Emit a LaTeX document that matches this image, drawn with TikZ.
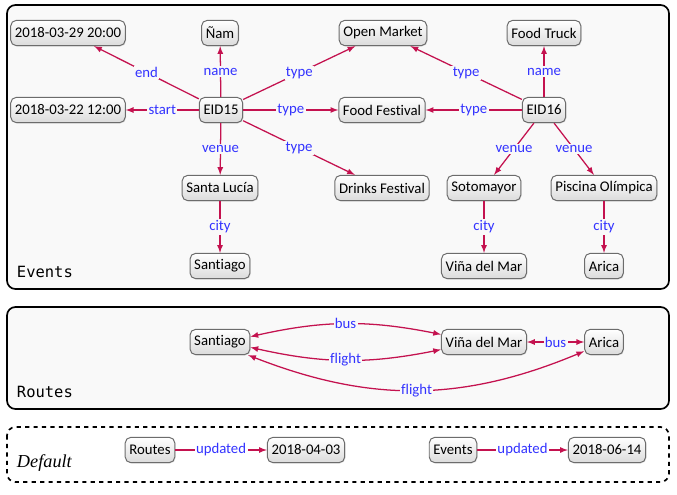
\documentclass[tikz,border=0pt]{standalone}
\usepackage{fontspec}
\setmainfont[Ligatures=NoCommon]{Carlito}
\setmonofont{DejaVu Sans Mono}
\newfontfamily\defaultfont{Liberation Serif}
\usetikzlibrary{arrows,calc,shadows}
\definecolor{edgecol}{RGB}{196,18,79}
\definecolor{lblcol}{RGB}{51,51,255}
\definecolor{boxbg}{RGB}{249,249,249}
\tikzset{
  every node/.style={font=\fontsize{10.5}{12}\selectfont},
  res/.style={draw=gray!85!black,rounded corners=4pt,top color=white,bottom color=gray!28,
    inner sep=3pt,minimum height=18pt,line width=0.7pt,
    drop shadow={opacity=0.2,shadow xshift=0.6pt,shadow yshift=-0.6pt}},
  rel/.style={draw=edgecol,line width=0.9pt,-latex},
  birel/.style={draw=edgecol,line width=0.9pt,latex-latex},
  lbl/.style={text=lblcol,fill=boxbg,inner sep=1pt},
  graphbox/.style={draw,line width=1.2pt,rounded corners=6pt,fill=boxbg},
  boxname/.style={anchor=west,font=\ttfamily\fontsize{11}{13}\selectfont}
}

\begin{document}
\begin{tikzpicture}[x=0.025cm,y=-0.025cm]
\useasboundingbox (0,0) rectangle (677,494);

% named graph boxes
\draw[graphbox] (7,5) rectangle (669,289);
\draw[graphbox] (7,307) rectangle (669,409);
\draw[graphbox,dashed,fill=white] (7,427) rectangle (669,482);
\node[boxname] (nEvents) at (12,272) {Events};
\node[boxname] (nRoutes) at (12,392) {Routes};
\node[anchor=west,font=\defaultfont\itshape\fontsize{13}{15}\selectfont] (nDefault) at (12,463) {Default};

% Events
\node[res] (end15) at (68,33) {2018-03-29 20:00};
\node[res] (nam) at (220,33) {Ñam};
\node[res] (market) at (383,33) {Open Market};
\node[res] (truck) at (544,33) {Food Truck};
\node[res] (start15) at (68,110) {2018-03-22 12:00};
\node[res] (eid15) at (221,110) {EID15};
\node[res] (festival) at (382,110) {Food Festival};
\node[res] (eid16) at (544,110) {EID16};
\node[res] (lucia) at (220,188) {Santa Lucía};
\node[res] (drinks) at (382,188) {Drinks Festival};
\node[res] (soto) at (484,188) {Sotomayor};
\node[res] (piscina) at (604,188) {Piscina Olímpica};
\node[res] (santiago) at (220,266) {Santiago};
\node[res] (vina) at (484,266) {Viña del Mar};
\node[res] (arica) at (604,266) {Arica};

\draw[rel] (eid15) -- node[lbl] {end} (end15);
\draw[rel] (eid15) -- node[lbl] {name} (nam);
\draw[rel] (eid15) -- node[lbl] {type} (market);
\draw[rel] (eid15) -- node[lbl] {start} (start15);
\draw[rel] (eid15) -- node[lbl] {type} (festival);
\draw[rel] (eid15) -- node[lbl] {venue} (lucia);
\draw[rel] (eid15) -- node[lbl] {type} (drinks);
\draw[rel] (eid16) -- node[lbl] {type} (market);
\draw[rel] (eid16) -- node[lbl] {name} (truck);
\draw[rel] (eid16) -- node[lbl] {type} (festival);
\draw[rel] (eid16) -- node[lbl] {venue} (soto);
\draw[rel] (eid16) -- node[lbl] {venue} (piscina);
\draw[rel] (lucia) -- node[lbl] {city} (santiago);
\draw[rel] (soto) -- node[lbl] {city} (vina);
\draw[rel] (piscina) -- node[lbl] {city} (arica);

% Routes
\node[res] (rsantiago) at (220,342) {Santiago};
\node[res] (rvina) at (484,342) {Viña del Mar};
\node[res] (rarica) at (604,342) {Arica};

\draw[birel] (rsantiago.10) to[bend left=12] node[lbl] {bus} (rvina.170);
\draw[birel] (rsantiago.-10) to[bend right=12] node[lbl] {flight} (rvina.-170);
\draw[birel] (rsantiago.-25) to[bend right=22] node[lbl] {flight} (rarica.-155);
\draw[birel] (rvina) -- node[lbl] {bus} (rarica);

% Default
\node[res] (droutes) at (150,450) {Routes};
\node[res] (ddate1) at (306,450) {2018-04-03};
\node[res] (devents) at (453,450) {Events};
\node[res] (ddate2) at (607,450) {2018-06-14};

\draw[rel] (droutes) -- node[lbl,fill=white] {updated} (ddate1);
\draw[rel] (devents) -- node[lbl,fill=white] {updated} (ddate2);

\end{tikzpicture}
\end{document}
